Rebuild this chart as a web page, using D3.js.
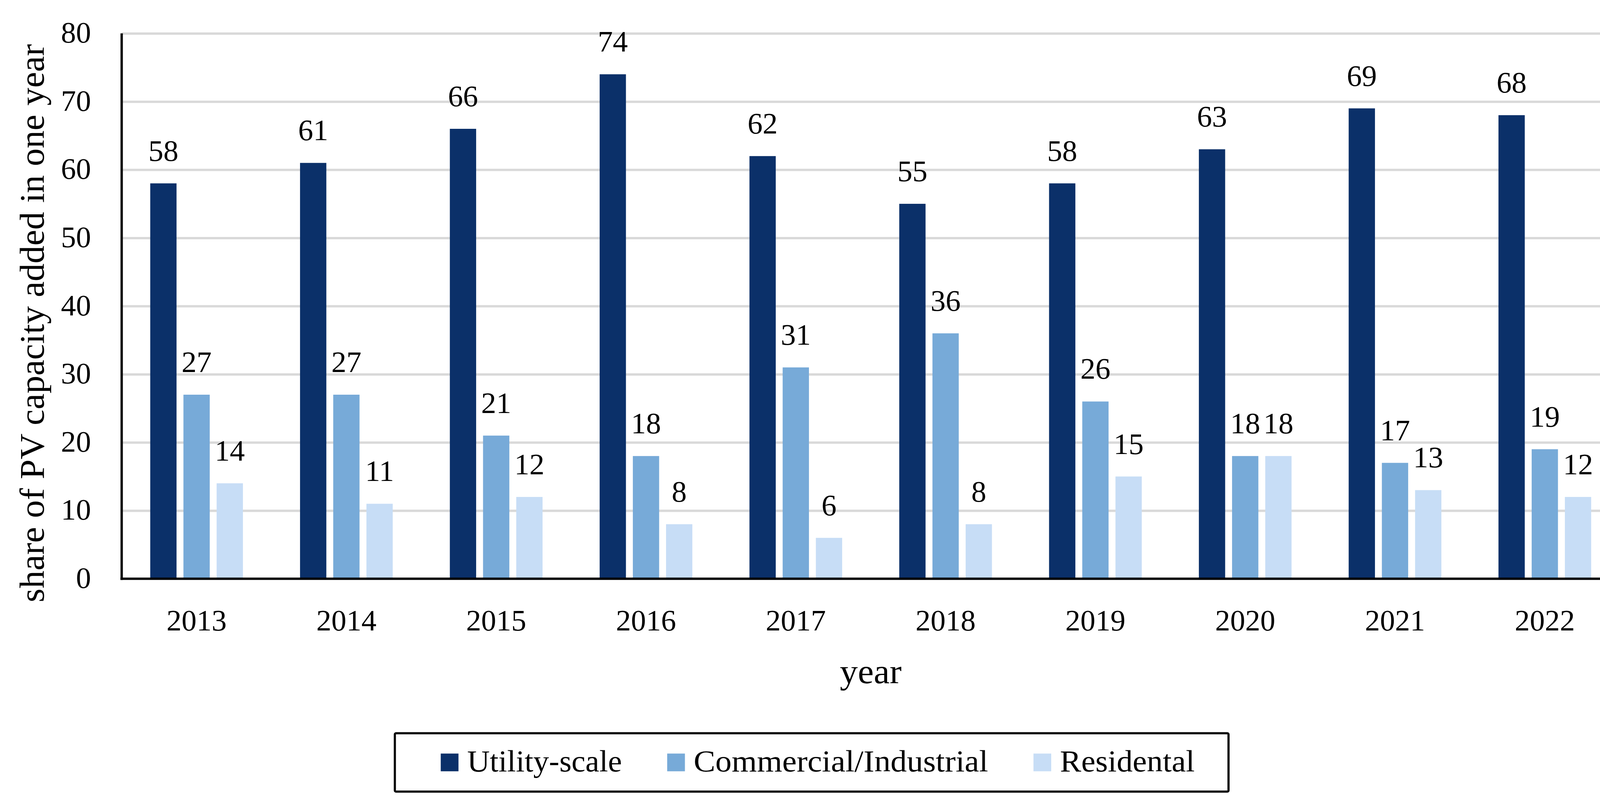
<!DOCTYPE html>
<html>
<head>
<meta charset="utf-8">
<script src="https://cdn.jsdelivr.net/npm/d3@7/dist/d3.min.js"></script>
<style>
  html, body { margin: 0; padding: 0; background: #ffffff; }
  svg { display: block; }
  text { font-family: "Liberation Serif", "Times New Roman", serif; fill: #000; }
</style>
</head>
<body>
<svg id="chart" width="4224" height="2080"></svg>
<script>
// ---- data ----
const years = ["2013", "2014", "2015", "2016", "2017", "2018", "2019", "2020", "2021", "2022"];
const seriesNames = ["Utility-scale", "Commercial/Industrial", "Residental"];
const utilityScale = [58, 61, 66, 74, 62, 55, 58, 63, 69, 68];
const commercialIndustrial = [27, 27, 21, 18, 31, 36, 26, 18, 17, 19];
const residental = [14, 11, 12, 8, 6, 8, 15, 18, 13, 12];
const yTicks = [0, 10, 20, 30, 40, 50, 60, 70, 80];
const colors = ["#0b3069", "#77aad8", "#c7ddf6"];
const yTitle = "share of PV capacity added in one year";
const xTitle = "year";

const seriesValues = [utilityScale, commercialIndustrial, residental];
const rows = years.map((yr, i) => ({
  year: yr,
  values: seriesNames.map((s, k) => ({ series: s, k: k, value: seriesValues[k][i] }))
}));

// ---- layout ----
const svg = d3.select("#chart");
svg.append("rect").attr("width", 4224).attr("height", 2080).attr("fill", "#fff");

const plotL = 311.5, plotR = 4146.5, plotT = 85.5, plotB = 1482.5;

const x0 = d3.scaleBand().domain(years).range([plotL, plotR]).padding(0);
const innerW = 237.3;
const x1 = d3.scaleBand().domain(seriesNames).range([0, innerW]).paddingInner(0.208).paddingOuter(0);
const groupOffset = (x0.bandwidth() - innerW) / 2;
const y = d3.scaleLinear().domain([0, 80]).range([plotB, plotT]);
const color = d3.scaleOrdinal().domain(seriesNames).range(colors);

// gridlines
const grid = svg.append("g")
  .attr("transform", `translate(${plotL},0)`)
  .call(d3.axisLeft(y).tickValues(yTicks.filter(d => d > 0)).tickSize(-(plotR - plotL)).tickFormat(""));
grid.select(".domain").remove();
grid.selectAll(".tick line").attr("stroke", "#d9d9d9").attr("stroke-width", 6);

// bars
const groups = svg.append("g").selectAll("g.grp")
  .data(rows).join("g")
  .attr("class", "grp")
  .attr("transform", d => `translate(${x0(d.year) + groupOffset},0)`);

groups.selectAll("rect")
  .data(d => d.values).join("rect")
  .attr("x", d => x1(d.series))
  .attr("width", x1.bandwidth())
  .attr("y", d => y(d.value))
  .attr("height", d => y(0) - y(d.value))
  .attr("fill", d => color(d.series));

// value labels
groups.selectAll("text.val")
  .data(d => d.values).join("text")
  .attr("class", "val")
  .attr("x", d => x1(d.series) + x1.bandwidth() / 2)
  .attr("y", d => y(d.value) - 58)
  .attr("text-anchor", "middle")
  .attr("font-size", 77)
  .text(d => d.value);

// y axis (labels)
const yAxis = svg.append("g")
  .attr("transform", `translate(${plotL},0)`)
  .call(d3.axisLeft(y).tickValues(yTicks).tickSize(0).tickPadding(78.5));
yAxis.select(".domain").remove();
yAxis.selectAll(".tick text")
  .attr("dy", 23)
  .attr("font-size", 77)
  .attr("font-family", "Liberation Serif")
  .attr("fill", "#000");

// x axis (labels)
const xAxis = svg.append("g")
  .attr("transform", `translate(0,${plotB})`)
  .call(d3.axisBottom(x0).tickSize(0).tickPadding(0));
xAxis.select(".domain").remove();
xAxis.selectAll(".tick text")
  .attr("y", 132.5)
  .attr("dy", 0)
  .attr("font-size", 77)
  .attr("font-family", "Liberation Serif")
  .attr("fill", "#000");

// axis lines
svg.append("line")
  .attr("x1", plotL).attr("x2", plotL)
  .attr("y1", plotT).attr("y2", plotB + 3)
  .attr("stroke", "#000").attr("stroke-width", 6);
svg.append("line")
  .attr("x1", plotL - 3).attr("x2", plotR)
  .attr("y1", plotB).attr("y2", plotB)
  .attr("stroke", "#000").attr("stroke-width", 6);

// axis titles
svg.append("text")
  .attr("transform", `translate(111.7,${(113 + 1543) / 2}) rotate(-90)`)
  .attr("text-anchor", "middle")
  .attr("font-size", 88)
  .attr("textLength", 1430)
  .attr("lengthAdjust", "spacingAndGlyphs")
  .text(yTitle);

svg.append("text")
  .attr("x", (plotL + plotR) / 2)
  .attr("y", 1750)
  .attr("text-anchor", "middle")
  .attr("font-size", 88)
  .attr("textLength", 158)
  .attr("lengthAdjust", "spacingAndGlyphs")
  .text(xTitle);

// legend
const legend = svg.append("g");
legend.append("rect")
  .attr("x", 1010.8).attr("y", 1878.3)
  .attr("width", 2134.2).attr("height", 149.5)
  .attr("rx", 3)
  .attr("fill", "#fff").attr("stroke", "#000").attr("stroke-width", 5.5);

const legendTextLen = [396, 754, 345];
let lx = 1128.3;
seriesNames.forEach((s, i) => {
  legend.append("rect")
    .attr("x", lx).attr("y", 1930.3)
    .attr("width", 45.4).attr("height", 45.4)
    .attr("fill", color(s));
  legend.append("text")
    .attr("x", lx + 67.7).attr("y", 1975.7)
    .attr("font-size", 78)
    .attr("textLength", legendTextLen[i])
    .attr("lengthAdjust", "spacingAndGlyphs")
    .text(s);
  lx = lx + 67.7 + legendTextLen[i] + 116;
});
</script>
</body>
</html>
